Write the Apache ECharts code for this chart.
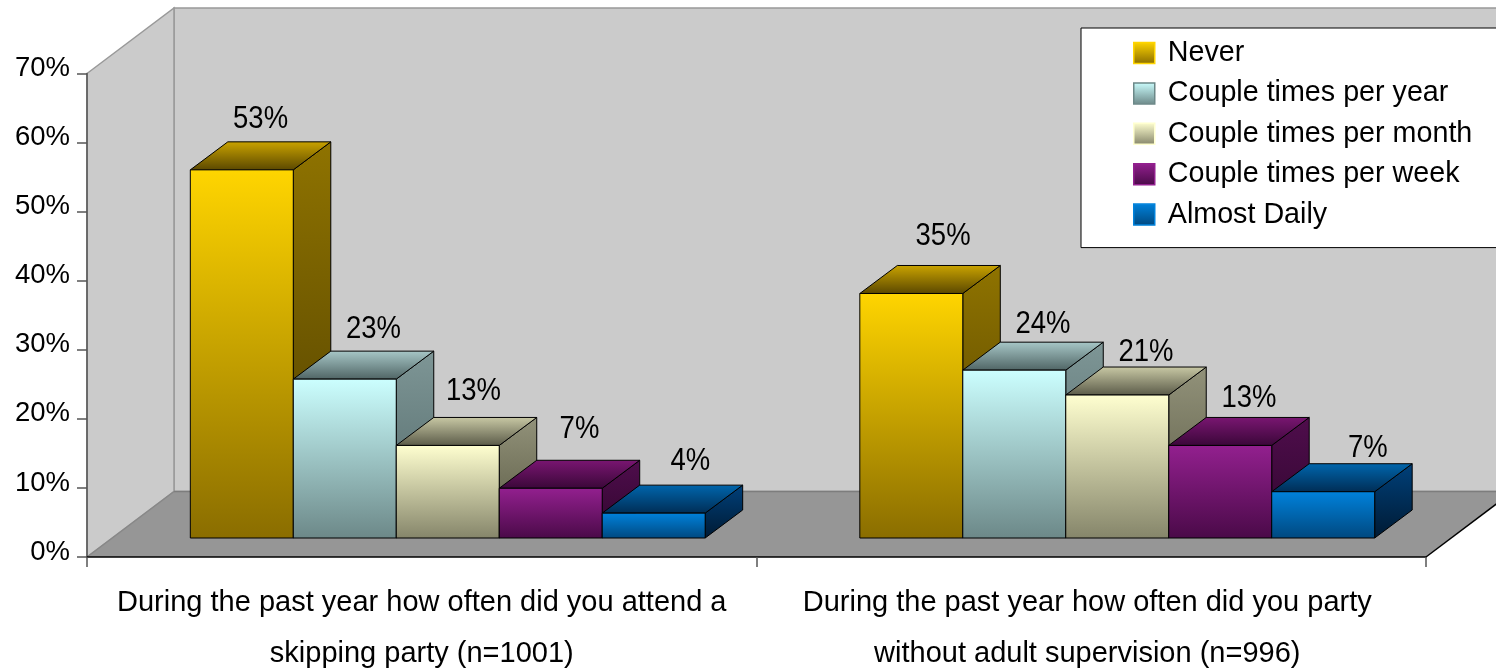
<!DOCTYPE html>
<html>
<head>
<meta charset="utf-8">
<style>html,body{margin:0;padding:0;background:#fff}#c{width:1496px;height:671px}</style>
<script src="https://cdn.jsdelivr.net/npm/echarts@6/dist/echarts.min.js"></script>
</head>
<body>
<div id="c"></div>
<script>
const categories = [
  'During the past year how often did you attend a\nskipping party (n=1001)',
  'During the past year how often did you party\nwithout adult supervision (n=996)'
];
const seriesNames = ['Never', 'Couple times per year', 'Couple times per month', 'Couple times per week', 'Almost Daily'];
const never = [53.3, 35.4];
const perYear = [23, 24.3];
const perMonth = [13.4, 20.7];
const perWeek = [7.2, 13.4];
const daily = [3.6, 6.7];
const tickMax = 70;
const tickStep = 10;

const allValues = [never, perYear, perMonth, perWeek, daily];
const faceColors = [
  {front: ['#FFD500', '#8A6D00'], top: ['#CBA400', '#5A4700'], side: ['#8F7300', '#4D3D00'], border: '#FFD500'},
  {front: ['#CCFFFF', '#6C8888'], top: ['#A8C8C8', '#4F6464'], side: ['#7E9696', '#4F6666'], border: '#6C8888'},
  {front: ['#FFFFD0', '#85856A'], top: ['#C9C9A5', '#5A5A48'], side: ['#92927A', '#55553F'], border: '#FFFFD0'},
  {front: ['#93208F', '#4A0A48'], top: ['#7A1672', '#3A0738'], side: ['#4F0D4C', '#2F062D'], border: '#93208F'},
  {front: ['#0082DC', '#00487F'], top: ['#0066AD', '#002D55'], side: ['#00407A', '#001A33'], border: '#0082DC'}
];
const vGrad = c => new echarts.graphic.LinearGradient(0, 0, 0, 1, [{offset: 0, color: c[0]}, {offset: 1, color: c[1]}]);

// projection of the 3D box, in pixels
const WALL_DX = 87, WALL_DY = 65.5;
const FRONT_DX = 26, FRONT_DY = 19;
const BAR_DX = 37.5, BAR_DY = 28;
const BAR_FRAC = 0.1538;
// hand placement of the value labels: [dx, dy] from the middle of each bar's rear top edge
const labelNudge = [
  [[0, -22], [13, -29]],
  [[10, -22], [10, -18]],
  [[7, -26], [10, -15]],
  [[10, -31], [10, -19]],
  [[18, -24], [26, -15]]
];

function wallRender(params, api) {
  const o = api.coord([0, 0]);
  const catW = api.size([1, 0])[0];
  const x0 = o[0] - catW / 2, y0 = o[1];
  const x1 = x0 + catW * 2;
  const yt = api.coord([0, tickMax])[1];
  const dx = WALL_DX, dy = WALL_DY;
  return {type: 'group', silent: true, children: [
    {type: 'polygon', shape: {points: [[x0 + dx, yt - dy], [x1 + dx, yt - dy], [x1 + dx, y0 - dy], [x0 + dx, y0 - dy]]},
      style: {fill: '#CBCBCB', stroke: '#999999', lineWidth: 1.5}},
    {type: 'polygon', shape: {points: [[x0, yt], [x0 + dx, yt - dy], [x0 + dx, y0 - dy], [x0, y0]]},
      style: {fill: '#CBCBCB', stroke: '#999999', lineWidth: 1.5}},
    {type: 'polygon', shape: {points: [[x0, y0], [x0 + dx, y0 - dy], [x1 + dx, y0 - dy], [x1, y0]]},
      style: {fill: '#969696', stroke: null}},
    {type: 'line', shape: {x1: x0 + dx, y1: y0 - dy, x2: x1 + dx, y2: y0 - dy}, style: {stroke: '#7D7D7D', lineWidth: 1.5}},
    {type: 'line', shape: {x1: x0, y1: y0, x2: x0 + dx, y2: y0 - dy}, style: {stroke: '#888888', lineWidth: 1.5}},
    {type: 'line', shape: {x1: x1, y1: y0, x2: x1 + dx, y2: y0 - dy}, style: {stroke: '#000000', lineWidth: 1.5}}
  ]};
}

function barRender(si) {
  return function (params, api) {
    const cat = api.value(0), val = api.value(1);
    const base = api.coord([cat, 0]);
    const top = api.coord([cat, val]);
    const w = api.size([1, 0])[0] * BAR_FRAC;
    const xl = base[0] + FRONT_DX + (si - 2.5) * w;
    const xr = xl + w;
    const yb = base[1] - FRONT_DY;
    const yt = top[1] - FRONT_DY;
    const c = faceColors[si];
    const edge = {stroke: '#000000', lineWidth: 1};
    const nudge = labelNudge[si][cat];
    return {type: 'group', children: [
      {type: 'polygon', shape: {points: [[xr, yt], [xr + BAR_DX, yt - BAR_DY], [xr + BAR_DX, yb - BAR_DY], [xr, yb]]},
        style: Object.assign({fill: vGrad(c.side)}, edge)},
      {type: 'polygon', shape: {points: [[xl, yt], [xl + BAR_DX, yt - BAR_DY], [xr + BAR_DX, yt - BAR_DY], [xr, yt]]},
        style: Object.assign({fill: vGrad(c.top)}, edge)},
      {type: 'rect', shape: {x: xl, y: yt, width: w, height: yb - yt},
        style: Object.assign({fill: vGrad(c.front)}, edge)},
      {type: 'text', x: xl + w / 2 + BAR_DX / 2 + nudge[0], y: yt - BAR_DY + nudge[1], scaleY: 1.12,
        style: {text: Math.round(val) + '%', fontFamily: 'Liberation Sans', fontSize: 27.5, fill: '#000',
          textAlign: 'center', textVerticalAlign: 'middle'}}
    ]};
  };
}

const chart = echarts.init(document.getElementById('c'), null, {renderer: 'canvas'});
chart.setOption({
  animation: false,
  backgroundColor: '#fff',
  grid: {left: 87, top: 73.5, width: 1339, height: 483.5, outerBoundsMode: 'none'},
  legend: {
    left: 1081, top: 28, orient: 'vertical',
    backgroundColor: '#fff', borderColor: '#000', borderWidth: 1,
    padding: [8, 60, 16, 52],
    itemWidth: 21, itemHeight: 21, itemGap: 6.4,
    textStyle: {fontFamily: 'Liberation Sans', fontSize: 28.7, color: '#000', lineHeight: 26, padding: [0, 0, 8, 8]},
    data: seriesNames.map((n, i) => ({
      name: n, icon: 'rect',
      itemStyle: {color: vGrad(faceColors[i].front), borderColor: faceColors[i].border, borderWidth: 1.5}
    }))
  },
  xAxis: {
    type: 'category', z: 5,
    data: [categories[0], {value: categories[1], textStyle: {padding: [0, 8, 0, 0]}}],
    axisLine: {lineStyle: {color: '#000', width: 1.5}},
    axisTick: {show: true, alignWithLabel: false, length: 10, lineStyle: {color: '#555', width: 1.5}},
    axisLabel: {fontFamily: 'Liberation Sans', fontSize: 29, color: '#000', lineHeight: 51, margin: 20, interval: 0}
  },
  yAxis: {
    type: 'value', min: 0, max: tickMax, interval: tickStep, z: 5,
    axisLine: {show: true, lineStyle: {color: '#555', width: 1.5}},
    axisTick: {show: true, length: 10, lineStyle: {color: '#555', width: 1.5}},
    splitLine: {show: false},
    axisLabel: {fontFamily: 'Liberation Sans', fontSize: 27.5, color: '#000', margin: 17, formatter: '{value}%', verticalAlign: 'bottom', lineHeight: 10}
  },
  series: [
    {type: 'custom', name: 'walls', z: 1, silent: true, renderItem: wallRender, data: [[0, 0]], clip: false, encode: {x: 0, y: 1}}
  ].concat(seriesNames.map((n, i) => ({
    type: 'custom', name: n, z: 2, renderItem: barRender(i), clip: false,
    encode: {x: 0, y: 1},
    data: allValues[i].map((v, k) => [k, v])
  })))
});
</script>
</body>
</html>
